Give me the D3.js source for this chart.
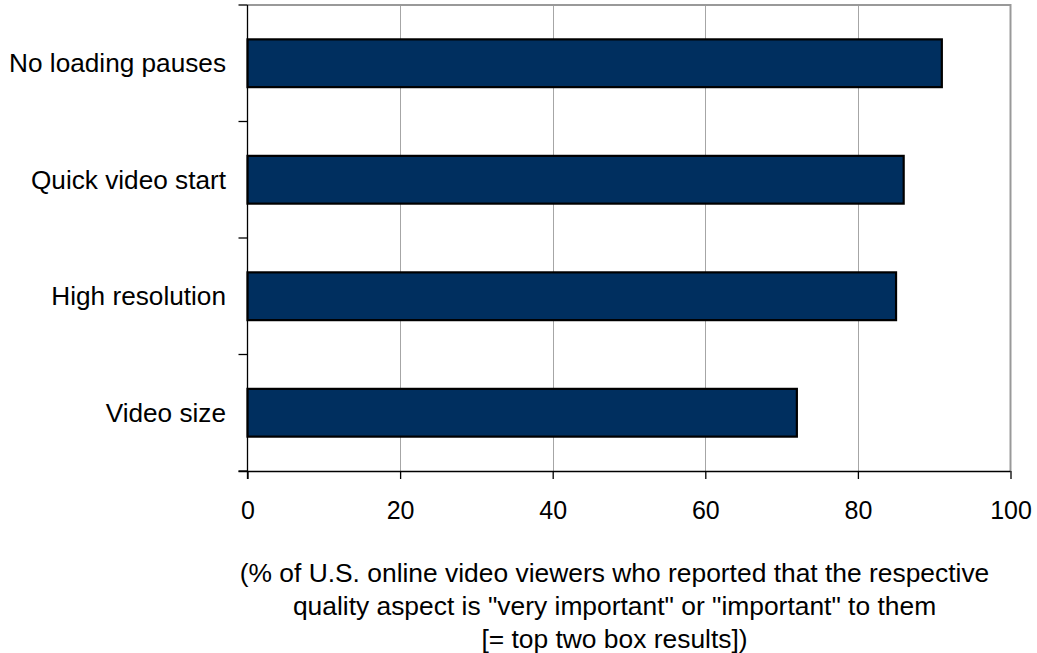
<!DOCTYPE html>
<html>
<head>
<meta charset="utf-8">
<script src="https://cdn.jsdelivr.net/npm/d3@7"></script>
<style>
  html, body { margin: 0; padding: 0; background: #fff; }
  svg { display: block; font-family: "Liberation Sans", Arial, sans-serif; }
</style>
</head>
<body>
<svg id="chart" width="1037" height="653"></svg>
<script>
const categories = ["No loading pauses", "Quick video start", "High resolution", "Video size"];
const values = [91, 86, 85, 72];
const xTicks = [0, 20, 40, 60, 80, 100];
const captionLines = [
  "(% of U.S. online video viewers who reported that the respective",
  "quality aspect is \"very important\" or \"important\" to them",
  "[= top two box results])"
];

const svg = d3.select("#chart");
const margin = { left: 247.5, right: 1010.5, top: 5, bottom: 471 };

const x = d3.scaleLinear().domain([0, 100]).range([margin.left, margin.right]);
const y = d3.scaleBand().domain(categories).range([margin.top, margin.bottom]).paddingInner(0.59).paddingOuter(0.295);

// gridlines
svg.append("g").selectAll("line").data(xTicks.filter(d => d > 0 && d < 100)).join("line")
  .attr("x1", d => Math.round(x(d)) + 0.5).attr("x2", d => Math.round(x(d)) + 0.5)
  .attr("y1", margin.top).attr("y2", margin.bottom)
  .attr("stroke", "#a6a6a6").attr("stroke-width", 1);

// top and right border (gray)
svg.append("path")
  .attr("d", `M${margin.left},${margin.top}H${margin.right}V${margin.bottom}`)
  .attr("fill", "none").attr("stroke", "#999").attr("stroke-width", 2);

// bars
svg.append("g").selectAll("rect").data(values).join("rect")
  .attr("x", x(0))
  .attr("y", (d, i) => y(categories[i]))
  .attr("width", d => x(d) - x(0))
  .attr("height", y.bandwidth())
  .attr("fill", "#002f5f")
  .attr("stroke", "#000").attr("stroke-width", 2.2);

// x axis
const xAxis = d3.axisBottom(x).tickValues(xTicks).tickSize(8).tickPadding(0).tickFormat(d3.format("d"));
const gx = svg.append("g").attr("transform", `translate(0,${margin.bottom})`).call(xAxis);
gx.select(".domain").attr("stroke", "#000").attr("stroke-width", 1.3).attr("d", `M${margin.left - 9},0.5H${margin.right}`);
gx.selectAll(".tick line").attr("stroke", "#000").attr("stroke-width", 1.3);
gx.selectAll(".tick text").attr("fill", "#000").attr("font-size", 25)
  .attr("y", 0).attr("dy", null).attr("transform", "translate(0,47.5)");

// y axis: ticks at band boundaries
const boundaries = d3.range(categories.length + 1).map(i => margin.top + i * (margin.bottom - margin.top) / categories.length);
const gy = svg.append("g");
gy.append("line").attr("x1", margin.left).attr("x2", margin.left)
  .attr("y1", margin.top).attr("y2", margin.bottom + 8)
  .attr("stroke", "#000").attr("stroke-width", 1.3);
gy.selectAll("line.tk").data(boundaries).join("line").attr("class", "tk")
  .attr("x1", margin.left - 9).attr("x2", margin.left)
  .attr("y1", d => d).attr("y2", d => d)
  .attr("stroke", "#000").attr("stroke-width", 1.3);

// category labels
svg.append("g").selectAll("text").data(categories).join("text")
  .attr("x", 226)
  .attr("y", d => y(d) + y.bandwidth() / 2)
  .attr("dy", "0.35em")
  .attr("text-anchor", "end")
  .attr("font-size", 26.2)
  .attr("fill", "#000")
  .text(d => d);

// caption
svg.append("g").selectAll("text").data(captionLines).join("text")
  .attr("x", 614.5)
  .attr("y", (d, i) => 581.5 + i * 33)
  .attr("text-anchor", "middle")
  .attr("font-size", 26.4)
  .attr("fill", "#000")
  .text(d => d);
</script>
</body>
</html>
